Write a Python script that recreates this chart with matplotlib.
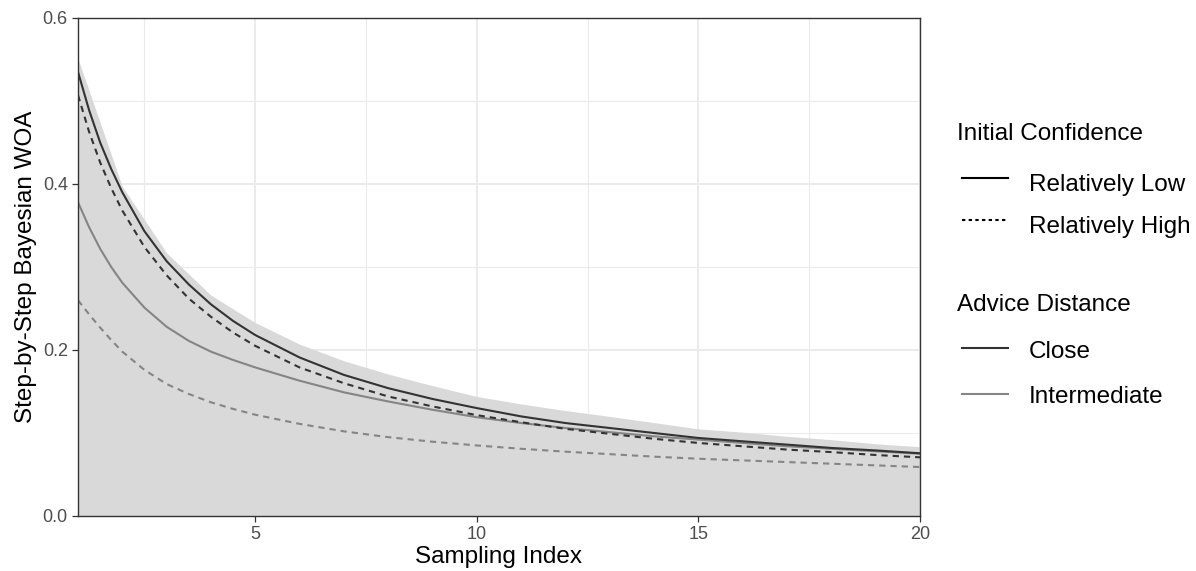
import matplotlib
matplotlib.use("Agg")
import matplotlib.pyplot as plt
from matplotlib.lines import Line2D

plt.rcParams['font.family'] = ['Liberation Sans', 'DejaVu Sans']

# sampling index for the model curves
x_fit = [1, 1.25, 1.5, 1.75, 2, 2.5, 3, 3.5, 4, 4.5, 5, 6, 7, 8, 9, 10,
         11, 12, 13, 14, 15, 16, 17, 18, 19, 20]
close_low = [0.535, 0.489, 0.450, 0.418, 0.390, 0.343, 0.307, 0.279, 0.255, 0.235, 0.218,
             0.191, 0.170, 0.154, 0.141, 0.130, 0.120, 0.112, 0.106, 0.100, 0.094,
             0.090, 0.086, 0.082, 0.079, 0.0756]
close_high = [0.507, 0.463, 0.426, 0.395, 0.368, 0.324, 0.290, 0.262, 0.240, 0.221, 0.205,
              0.179, 0.160, 0.144, 0.132, 0.1215, 0.113, 0.105, 0.099, 0.093, 0.088,
              0.084, 0.080, 0.077, 0.0735, 0.0707]
inter_low = [0.378, 0.348, 0.322, 0.300, 0.281, 0.251, 0.228, 0.211, 0.198, 0.188, 0.179,
             0.163, 0.149, 0.138, 0.128, 0.119, 0.112, 0.106, 0.101, 0.096, 0.092,
             0.088, 0.084, 0.081, 0.078, 0.075]
inter_high = [0.260, 0.243, 0.227, 0.212, 0.198, 0.176, 0.159, 0.147, 0.137, 0.129, 0.122,
              0.111, 0.102, 0.095, 0.0895, 0.085, 0.081, 0.0775, 0.0745, 0.0715, 0.069,
              0.067, 0.065, 0.063, 0.061, 0.059]

# individual trajectories: upper edge of the grey mass at each sampling index
x_idx = list(range(1, 21))
indiv_top = [0.551, 0.397, 0.317, 0.266, 0.233, 0.207, 0.187, 0.171, 0.157, 0.144,
             0.135, 0.127, 0.120, 0.1125, 0.105, 0.101, 0.096, 0.092, 0.087, 0.0835]
indiv_bottom = [0.0] * 20

conf_labels = ['Relatively Low', 'Relatively High']
dist_labels = ['Close', 'Intermediate']
dist_colors = ['#333333', '#858585']
dash = (3, 2.4)

fig = plt.figure(figsize=(11.96, 5.71), dpi=100)
ax = fig.add_axes([78 / 1196, 55 / 571, 842 / 1196, 498 / 571])

ax.fill_between(x_idx, indiv_bottom, indiv_top, color='#D9D9D9', lw=0, zorder=1)

ax.plot(x_fit, inter_low, color=dist_colors[1], lw=1.5, zorder=3)
ax.plot(x_fit, inter_high, color=dist_colors[1], lw=1.5, dashes=dash, zorder=3)
ax.plot(x_fit, close_high, color=dist_colors[0], lw=1.5, dashes=dash, zorder=4)
ax.plot(x_fit, close_low, color=dist_colors[0], lw=1.5, zorder=4)

ax.set_xlim(1, 20)
ax.set_ylim(0, 0.6)
ax.set_xticks([5, 10, 15, 20])
ax.set_xticks([2.5, 7.5, 12.5, 17.5], minor=True)
ax.set_yticks([0.0, 0.2, 0.4, 0.6])
ax.set_yticklabels(['0.0', '0.2', '0.4', '0.6'])
ax.set_yticks([0.1, 0.3, 0.5], minor=True)
ax.grid(which='major', color='#EBEBEB', lw=1.4, zorder=0)
ax.grid(which='minor', color='#EBEBEB', lw=0.8, zorder=0)
ax.set_axisbelow(True)
ax.tick_params(which='major', length=4.3, width=0.9, color='#333333',
               labelsize=13, labelcolor='#4D4D4D', pad=3)
ax.tick_params(which='minor', length=0)
for s in ax.spines.values():
    s.set_color('#333333')
    s.set_linewidth(1.0)
    s.set_zorder(5)

ax.set_xlabel('Sampling Index', fontsize=17.5, labelpad=2)
ax.set_ylabel('Step-by-Step Bayesian WOA', fontsize=17.5, labelpad=4)

# legends drawn by hand in figure pixels
def fy(py):
    return 1 - py / 571

def fx(px):
    return px / 1196

fig.text(fx(957), fy(140), 'Initial Confidence', fontsize=17.5, va='baseline')
for lab, yb, yl, style in zip(conf_labels, [190.7, 232.7], [178.3, 220], ['solid', 'dashed']):
    ln = Line2D([fx(962), fx(1008)], [fy(yl), fy(yl)], transform=fig.transFigure,
                color='black', lw=1.5)
    if style == 'dashed':
        ln.set_dashes((1.6, 1.6))
    fig.add_artist(ln)
    fig.text(fx(1029), fy(yb), lab, fontsize=17.5, va='baseline')

fig.text(fx(957), fy(311), 'Advice Distance', fontsize=17.5, va='baseline')
for lab, col, yb, yl in zip(dist_labels, dist_colors, [357.7, 402.7], [348.3, 394]):
    fig.add_artist(Line2D([fx(962), fx(1008)], [fy(yl), fy(yl)], transform=fig.transFigure,
                          color=col, lw=1.5))
    fig.text(fx(1029), fy(yb), lab, fontsize=17.5, va='baseline')

fig.savefig('out.png', dpi=100)
